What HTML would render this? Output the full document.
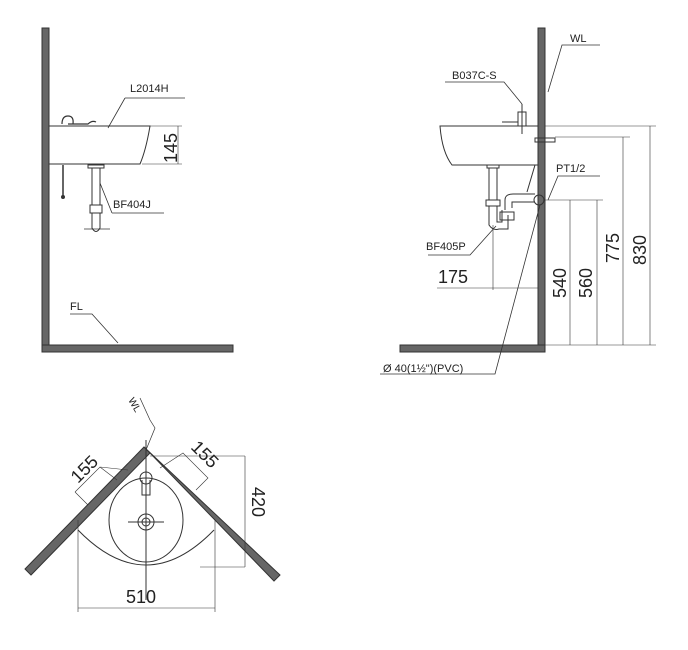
<!DOCTYPE html>
<html><head><style>body{margin:0;background:#fff}svg{display:block}text{font-family:"Liberation Sans",sans-serif;fill:#222}</style></head><body>
<svg width="688" height="650" viewBox="0 0 688 650" xmlns="http://www.w3.org/2000/svg">
<g stroke="#333" fill="none" stroke-width="1">
<!-- LEFT VIEW -->
<rect x="42" y="28" width="7" height="324" fill="#666"/>
<rect x="42" y="345" width="191" height="7" fill="#666"/>
<path d="M49 126 H150 Q146 150 140 164 H49"/>
<path d="M62 124 q0-8 6-8 q6 0 5 8 M68 124 h20 q4-4 8-2" stroke-width="1.2"/>
<line x1="63" y1="165" x2="63" y2="197" stroke-width="1.5"/><circle cx="63" cy="197" r="1.5" fill="#333"/>
<rect x="88" y="165" width="16" height="3"/>
<path d="M92 168 V205 M100 168 V205"/>
<rect x="90" y="205" width="12" height="8"/>
<path d="M92 213 V228 q4 7 8 0 V213"/>
<line x1="84" y1="229" x2="110" y2="229" stroke-width="0.7"/>
<path d="M125 98 H185 M125 98 L108 128" stroke-width="0.8"/>
<path d="M150 126 H182 M142 164 H182 M178 126 V164" stroke-width="0.6"/>
<path d="M112 213 H164 M112 213 L100 183" stroke-width="0.8"/>
<path d="M70 314 H92 L118 343" stroke-width="0.8"/>
<!-- RIGHT VIEW -->
<rect x="538" y="28" width="7" height="324" fill="#666"/>
<rect x="400" y="345" width="145" height="7" fill="#666"/>
<path d="M538 126 H440 Q442 152 452 165 H538"/>
<path d="M518 126 v-14 h8 v14 M502 122 h16 M522 104 v30" stroke-width="1"/>
<rect x="535" y="138" width="20" height="4"/>
<rect x="487" y="165" width="12" height="3"/>
<path d="M489 168 V200 M497 168 V200"/>
<rect x="486" y="200" width="14" height="6"/>
<path d="M489 206 V225 q4 6 10 4 H508 V215 M497 206 V222 H502 V210"/>
<path d="M505 210 V200 q0-6 8-6 H535 M512 208 V202 H535"/>
<rect x="500" y="212" width="14" height="8"/>
<circle cx="539" cy="200" r="5"/>
<path d="M527 192 L535 165 L537 165" stroke-width="1"/>
<path d="M545 126 H656 M555 137 H630 M545 200 H603 M545 200 H576 M545 345 H656" stroke-width="0.6"/>
<path d="M650 126 V345 M623 137 V345 M597 200 V345 M570 200 V345" stroke-width="0.6"/>
<path d="M548 92 L562 45 H600" stroke-width="0.8"/>
<path d="M445 82 H504 L522 104" stroke-width="0.8"/>
<path d="M548 200 L558 176 H600" stroke-width="0.8"/>
<path d="M428 255 H470 L496 226" stroke-width="0.8"/>
<path d="M437 288 H538 M493 225 V290" stroke-width="0.6"/>
<path d="M380 374 H495 L540 205" stroke-width="0.8"/>
<!-- PLAN VIEW -->
<polygon points="144,447 150,453 31,575 25,569" fill="#666"/>
<polygon points="144,447 150,453 274,581 280,575" fill="#666"/>
<path d="M78 530 Q146 600 214 530"/>
<ellipse cx="146" cy="520" rx="37" ry="42"/>
<circle cx="146" cy="522" r="8"/><circle cx="146" cy="522" r="4"/>
<path d="M128 522 H164 M146 440 V600"/>
<circle cx="146" cy="478" r="6"/><path d="M142 480 v15 h8 v-15"/>
<path d="M78 520 V612 M215 520 V612 M78 608 H215" stroke-width="0.6"/>
<path d="M150 456 H245 M200 567 H245 M245 456 V567" stroke-width="0.6"/>
<path d="M75 492 L100 467 L117 480 M88 505 L75 492 M100 467 L128 470" stroke-width="0.6"/>
<path d="M160 468 L183 453 L208 478 L196 490" stroke-width="0.6"/>
<path d="M146 450 L155 428 L150 420 L140 398" stroke-width="0.7"/>
</g>
<text x="130" y="92" font-size="11">L2014H</text>
<text x="177" y="163" font-size="18" transform="rotate(-90 177 163)">145</text>
<text x="113" y="208" font-size="11">BF404J</text>
<text x="70" y="310" font-size="11">FL</text>
<text x="570" y="42" font-size="11">WL</text>
<text x="452" y="79" font-size="11">B037C-S</text>
<text x="556" y="172" font-size="11">PT1/2</text>
<text x="426" y="250" font-size="11">BF405P</text>
<text x="438" y="283" font-size="18">175</text>
<text x="566" y="298" font-size="18" transform="rotate(-90 566 298)">540</text>
<text x="592" y="298" font-size="18" transform="rotate(-90 592 298)">560</text>
<text x="619" y="263" font-size="18" transform="rotate(-90 619 263)">775</text>
<text x="646" y="265" font-size="18" transform="rotate(-90 646 265)">830</text>
<text x="383" y="372" font-size="11">Ø 40(1½")(PVC)</text>
<text x="128" y="400" font-size="10" transform="rotate(60 128 400)">WL</text>
<text x="78" y="484" font-size="18" transform="rotate(-45 78 484)">155</text>
<text x="190" y="448" font-size="18" transform="rotate(45 190 448)">155</text>
<text x="252" y="487" font-size="18" transform="rotate(90 252 487)">420</text>
<text x="126" y="603" font-size="18">510</text>
</svg>
</body></html>
